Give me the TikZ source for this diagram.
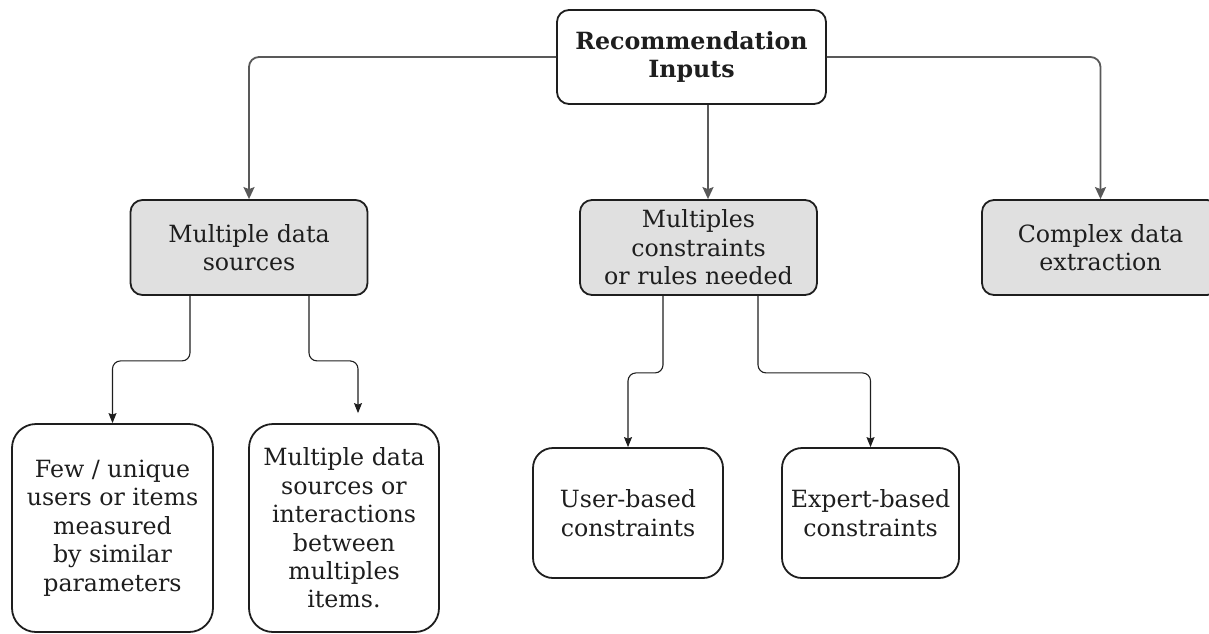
\documentclass[tikz,border=0pt]{standalone}
\usepackage{fontspec}
\setmainfont{DejaVu Serif}
\usetikzlibrary{arrows.meta,calc}
\definecolor{boxfill}{HTML}{E0E0E0}
\definecolor{linkgray}{HTML}{595959}
\definecolor{inkdark}{HTML}{1E1E1E}
\begin{document}
\begin{tikzpicture}[x=1pt,y=-1pt,
  box/.style={draw=inkdark, line width=1.8pt, rounded corners=12pt, align=center,
    inner sep=0pt, text=inkdark, font=\fontsize{23.7}{28.4}\selectfont},
  topbox/.style={box, minimum width=269pt, minimum height=94pt,
    font=\bfseries\fontsize{23.7}{28}\selectfont},
  midbox/.style={box, fill=boxfill, minimum width=237pt, minimum height=95pt},
  leafbox/.style={box, rounded corners=24pt},
  mainlink/.style={draw=linkgray, line width=1.8pt, rounded corners=10pt,
    -{Stealth[length=12pt,width=11pt,inset=2pt]}},
  sublink/.style={draw=inkdark, line width=1.1pt, rounded corners=8pt,
    -{Stealth[length=10pt,width=8pt,inset=1.5pt]}}
]
\useasboundingbox (0,0) rectangle (1209,633);

% root
\node[topbox] (root) at (691.5,57) {Recommendation\\Inputs};

% second level
\node[midbox] (mds) at (249,247.5) {Multiple data\\sources};
\node[midbox] (mcr) at (698.5,247.5) {Multiples\\constraints\\or rules needed};
\node[midbox] (cde) at (1100.5,247.5) {Complex data\\extraction};

% leaves
\node[leafbox, minimum width=201pt, minimum height=208pt] (few) at (112.5,528)
  {Few / unique\\users or items\\measured\\by similar\\parameters};
\node[leafbox, minimum width=190pt, minimum height=208pt] (mdi) at (344,528)
  {Multiple data\\sources or\\interactions\\between\\multiples\\items.};
\node[leafbox, rounded corners=20pt, minimum width=190pt, minimum height=130pt] (usr) at (628,513)
  {User-based\\constraints};
\node[leafbox, rounded corners=20pt, minimum width=177pt, minimum height=130pt] (exp) at (870.5,513)
  {Expert-based\\constraints};

% root to second level
\draw[mainlink] (root.west) -| (mds.north);
\draw[mainlink] (root.east) -| (cde.north);
\draw[mainlink] ($(root.south)+(16.5,0)$) -- ($(mcr.north)+(9.5,0)$);

% second level to leaves
\draw[sublink] ($(mds.south)+(-59,0)$) -- ++(0,65) -| (few.north);
\draw[sublink] ($(mds.south)+(60,0)$) -- ++(0,65) -| ($(mdi.north)+(14,-10)$);
\draw[sublink] ($(mcr.south)+(-35.5,0)$) -- ++(0,77) -| (usr.north);
\draw[sublink] ($(mcr.south)+(59.5,0)$) -- ++(0,77) -| (exp.north);
\end{tikzpicture}
\end{document}
